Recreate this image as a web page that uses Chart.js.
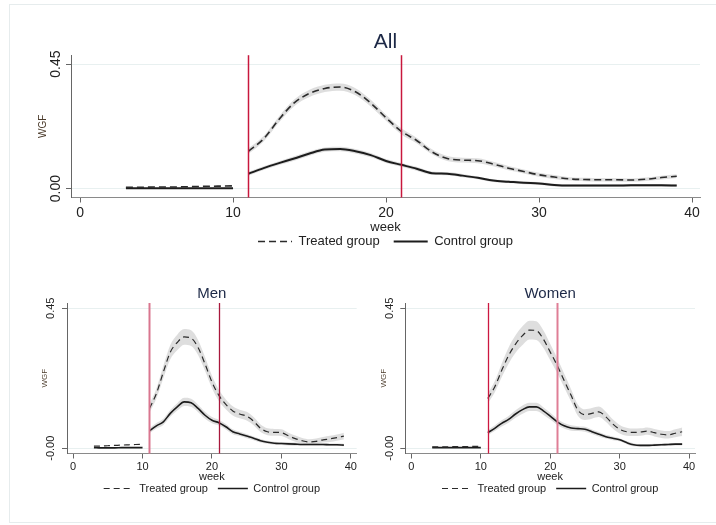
<!DOCTYPE html>
<html>
<head>
<meta charset="utf-8">
<title>WGF by week</title>
<script src="https://cdn.jsdelivr.net/npm/chart.js@4.4.1/dist/chart.umd.min.js"></script>
<style>
  html, body { margin: 0; padding: 0; background: #fff; overflow: hidden; }
  #frame { position: absolute; left: 9px; top: 4px; width: 760px; height: 517px; border: 1px solid #e6eced; }
  .box { position: absolute; }
</style>
</head>
<body>
<div id="frame"></div>
<div class="box" style="left:0;top:19px;width:716px;height:239px;"><canvas id="allChart"></canvas></div>
<div class="box" style="left:0;top:277px;width:360px;height:227px;"><canvas id="menChart"></canvas></div>
<div class="box" style="left:360px;top:277px;width:356px;height:227px;"><canvas id="womenChart"></canvas></div>
<script>
// weeks before / after the start of the programme
const weeksPre = [3, 4, 5, 6, 7, 8, 9, 10];
const weeksPost = [11, 12, 13, 14, 15, 16, 17, 18, 19, 20, 21, 22, 23, 24, 25, 26, 27, 28, 29, 30, 31, 32, 33, 34, 35, 36, 37, 38, 39];
const xTicks = [0, 10, 20, 30, 40];
const yTicks = [0, 0.45];
const yLabelsAll = ['0.00', '0.45'];
const yLabelsSub = ['-0.00', '0.45'];
const policyWeeks = [11, 21];

// All
const allTreatedPre = [0.005, 0.005, 0.006, 0.006, 0.007, 0.008, 0.009, 0.010];
const allControlPre = [0.001, 0.001, 0.001, 0.001, 0.001, 0.001, 0.001, 0.001];
const allTreatedPost = [0.135, 0.18, 0.25, 0.31, 0.344, 0.362, 0.367, 0.35, 0.309, 0.256, 0.207, 0.174, 0.133, 0.109, 0.103, 0.101, 0.089, 0.074, 0.062, 0.05, 0.042, 0.035, 0.033, 0.032, 0.032, 0.031, 0.034, 0.04, 0.045];
const allControlPost = [0.054, 0.074, 0.092, 0.109, 0.127, 0.141, 0.143, 0.135, 0.121, 0.10, 0.086, 0.072, 0.056, 0.054, 0.047, 0.039, 0.029, 0.025, 0.021, 0.019, 0.013, 0.011, 0.011, 0.011, 0.011, 0.012, 0.012, 0.012, 0.011];
const allTreatedCi = [0.01, 0.01, 0.011, 0.012, 0.013, 0.013, 0.013, 0.013, 0.012, 0.011, 0.011, 0.01, 0.009, 0.009, 0.009, 0.009, 0.008, 0.008, 0.007, 0.007, 0.007, 0.006, 0.006, 0.006, 0.006, 0.006, 0.006, 0.007, 0.007];
const allControlCi = [0.007, 0.007, 0.007, 0.008, 0.008, 0.008, 0.008, 0.008, 0.008, 0.007, 0.007, 0.007, 0.006, 0.006, 0.006, 0.005, 0.005, 0.005, 0.005, 0.005, 0.005, 0.005, 0.005, 0.005, 0.005, 0.005, 0.005, 0.005, 0.005];

// Men
const menTreatedPre = [0.007, 0.007, 0.008, 0.009, 0.010, 0.011, 0.012, 0.013];
const menControlPre = [0.002, 0.001, 0.001, 0.001, 0.002, 0.002, 0.002, 0.002];
const menTreatedPost = [0.128, 0.176, 0.245, 0.309, 0.34, 0.358, 0.354, 0.324, 0.271, 0.213, 0.17, 0.141, 0.12, 0.11, 0.103, 0.087, 0.064, 0.053, 0.051, 0.05, 0.04, 0.031, 0.024, 0.02, 0.022, 0.027, 0.03, 0.034, 0.039];
const menControlPost = [0.056, 0.072, 0.085, 0.112, 0.133, 0.149, 0.146, 0.128, 0.106, 0.09, 0.082, 0.069, 0.053, 0.046, 0.039, 0.032, 0.024, 0.019, 0.016, 0.015, 0.014, 0.013, 0.012, 0.012, 0.012, 0.012, 0.011, 0.011, 0.01];
const menTreatedCi = [0.014, 0.016, 0.02, 0.023, 0.025, 0.025, 0.025, 0.024, 0.022, 0.02, 0.018, 0.016, 0.015, 0.014, 0.014, 0.013, 0.012, 0.011, 0.011, 0.011, 0.01, 0.01, 0.009, 0.009, 0.009, 0.009, 0.01, 0.01, 0.011];
const menControlCi = [0.008, 0.009, 0.01, 0.011, 0.012, 0.013, 0.013, 0.012, 0.011, 0.01, 0.009, 0.009, 0.008, 0.007, 0.007, 0.006, 0.006, 0.005, 0.005, 0.005, 0.005, 0.005, 0.004, 0.004, 0.004, 0.004, 0.004, 0.004, 0.004];

// Women
const womenTreatedPre = [0.004, 0.004, 0.004, 0.005, 0.005, 0.005, 0.006, 0.006];
const womenControlPre = [0.002, 0.002, 0.002, 0.002, 0.002, 0.002, 0.002, 0.002];
const womenTreatedPost = [0.16, 0.197, 0.25, 0.298, 0.335, 0.362, 0.38, 0.378, 0.351, 0.309, 0.266, 0.218, 0.17, 0.122, 0.108, 0.112, 0.117, 0.101, 0.078, 0.061, 0.053, 0.051, 0.052, 0.055, 0.05, 0.045, 0.043, 0.048, 0.053];
const womenControlPost = [0.05, 0.064, 0.08, 0.093, 0.11, 0.124, 0.133, 0.133, 0.12, 0.103, 0.085, 0.072, 0.065, 0.063, 0.061, 0.053, 0.045, 0.037, 0.032, 0.027, 0.018, 0.011, 0.009, 0.009, 0.01, 0.011, 0.012, 0.013, 0.013];
const womenTreatedCi = [0.016, 0.018, 0.022, 0.026, 0.028, 0.03, 0.03, 0.03, 0.028, 0.026, 0.024, 0.022, 0.02, 0.018, 0.017, 0.017, 0.017, 0.016, 0.015, 0.014, 0.013, 0.012, 0.012, 0.012, 0.012, 0.012, 0.012, 0.013, 0.014];
const womenControlCi = [0.008, 0.009, 0.01, 0.011, 0.012, 0.013, 0.013, 0.013, 0.012, 0.011, 0.01, 0.009, 0.009, 0.008, 0.008, 0.007, 0.007, 0.006, 0.006, 0.005, 0.005, 0.005, 0.004, 0.004, 0.004, 0.004, 0.004, 0.004, 0.004];

const fontFamily = "'Liberation Sans', Arial, sans-serif";
const bandColor = 'rgba(195, 195, 195, 0.55)';

function toPoints(weeks, vals, ci, sign) {
    return weeks.map((w, i) => ({ x: w, y: ci ? vals[i] + sign * ci[i] : vals[i] }));
}

function buildDatasets(tPre, cPre, tPost, cPost, tCi, cCi, s) {
    const treated = { borderColor: '#2b2b2b', borderWidth: s.lw, borderDash: s.dash, order: 0 };
    const control = { borderColor: '#1c1c1c', borderWidth: s.lw + 0.4, order: 0 };
    const band = { borderWidth: 0, backgroundColor: bandColor, order: 2 };
    return [
        Object.assign({ label: 'Treated group', data: toPoints(weeksPost, tPost) }, treated),
        Object.assign({ label: 'Control group', data: toPoints(weeksPost, cPost) }, control),
        Object.assign({ label: '', data: toPoints(weeksPre, tPre) }, treated),
        Object.assign({ label: '', data: toPoints(weeksPre, cPre) }, control),
        Object.assign({ label: '', data: toPoints(weeksPost, tPost, tCi, 1), fill: '+1' }, band),
        Object.assign({ label: '', data: toPoints(weeksPost, tPost, tCi, -1), fill: false }, band),
        Object.assign({ label: '', data: toPoints(weeksPost, cPost, cCi, 1), fill: '+1' }, band),
        Object.assign({ label: '', data: toPoints(weeksPost, cPost, cCi, -1), fill: false }, band)
    ];
}

// legend samples take dash and width from the line datasets
function legendLabels(chart) {
    const items = Chart.defaults.plugins.legend.labels.generateLabels(chart);
    items.forEach(it => {
        const ds = chart.data.datasets[it.datasetIndex];
        it.lineDash = ds.borderDash || [];
        it.lineWidth = ds.borderWidth;
        it.strokeStyle = ds.borderColor;
    });
    return items;
}

// vertical red lines at the policy weeks
const policyLines = {
    id: 'policyLines',
    afterDatasetsDraw(chart, args, opts) {
        const { ctx, chartArea, scales } = chart;
        ctx.save();
        policyWeeks.forEach((w, i) => {
            const px = Math.round(scales.x.getPixelForValue(w)) + 0.5;
            ctx.strokeStyle = opts.colors[i];
            ctx.lineWidth = opts.widths[i];
            ctx.beginPath();
            ctx.moveTo(px, chartArea.top);
            ctx.lineTo(px, chartArea.bottom);
            ctx.stroke();
        });
        ctx.restore();
    }
};

function makeChart(id, title, datasets, yLabels, s) {
    return new Chart(document.getElementById(id), {
        type: 'line',
        data: { datasets: datasets },
        options: {
            responsive: true,
            maintainAspectRatio: false,
            animation: false,
            layout: { padding: { left: 0, right: s.padRight, top: 0, bottom: 0 } },
            elements: { point: { radius: 0 }, line: { cubicInterpolationMode: 'monotone' } },
            plugins: {
                title: {
                    display: true, text: title, fullSize: false, color: '#1c2846',
                    font: { family: fontFamily, size: s.titleSize, weight: 'normal' },
                    padding: { top: s.titlePad, bottom: 0 }
                },
                legend: {
                    position: 'bottom', fullSize: false,
                    labels: {
                        filter: item => item.text !== '',
                        generateLabels: legendLabels,
                        usePointStyle: true, pointStyle: 'line', pointStyleWidth: s.legendBox,
                        padding: s.legendPad, color: '#222',
                        font: { family: fontFamily, size: s.legendSize }
                    }
                },
                tooltip: { enabled: false },
                policyLines: { colors: s.redColors, widths: s.redWidths }
            },
            scales: {
                x: {
                    type: 'linear', min: s.xMin, max: s.xMax,
                    afterBuildTicks: sc => { sc.ticks = xTicks.map(v => ({ value: v })); },
                    afterFit: sc => { sc.height = s.xHeight; },
                    ticks: { color: '#222', padding: 2, maxRotation: 0, autoSkip: false, font: { family: fontFamily, size: s.tickSize } },
                    grid: { drawOnChartArea: false, tickLength: 5, tickColor: '#666' },
                    border: { color: '#8a8a8a' },
                    title: { display: true, text: 'week', color: '#222', font: { family: fontFamily, size: s.weekSize }, padding: { top: 0, bottom: s.weekPad } }
                },
                y: {
                    min: s.yMin, max: s.yMax,
                    afterBuildTicks: sc => { sc.ticks = yTicks.map(v => ({ value: v })); },
                    afterFit: sc => { sc.width = s.yWidth; },
                    ticks: {
                        callback: (v, i) => yLabels[i],
                        minRotation: 90, maxRotation: 90, crossAlign: 'center', padding: s.yTickPad,
                        color: '#222', font: { family: fontFamily, size: s.tickSize }
                    },
                    grid: { color: '#e8f0f0', tickLength: 5, tickColor: '#666' },
                    border: { color: '#666' },
                    title: { display: true, text: 'WGF', color: '#4a3a2a', font: { family: fontFamily, size: s.wgfSize }, padding: { top: s.wgfPad, bottom: 0 } }
                }
            }
        },
        plugins: [policyLines]
    });
}

const topStyle = {
    lw: 1.6, dash: [7, 4], padRight: 16, titleSize: 21, titlePad: 11, legendBox: 34, legendPad: 14, legendSize: 13,
    xMin: -0.59, xMax: 40.52, yMin: -0.032, yMax: 0.482, xHeight: 23.5, yWidth: 71, tickSize: 14, weekSize: 13, weekPad: -14,
    yTickPad: -3.5, wgfSize: 10, wgfPad: 37, redColors: ['#c8173c', '#c8173c'], redWidths: [1.5, 1.5]
};
const subStyle = {
    lw: 1.2, dash: [6, 4], titleSize: 15, titlePad: 8, legendBox: 30, legendPad: 10, legendSize: 11,
    xMin: -0.88, xMax: 40.85, yMin: -0.017, yMax: 0.467, xHeight: 19.5, tickSize: 11, weekSize: 11, weekPad: -11,
    yTickPad: -2, wgfSize: 8
};

makeChart('allChart', 'All',
    buildDatasets(allTreatedPre, allControlPre, allTreatedPost, allControlPost, allTreatedCi, allControlCi, topStyle),
    yLabelsAll, topStyle);

const menStyle = Object.assign({}, subStyle, { padRight: 3.3, yWidth: 67, wgfPad: 40, redColors: ['#d9768f', '#a8183c'], redWidths: [2, 1.3] });
makeChart('menChart', 'Men',
    buildDatasets(menTreatedPre, menControlPre, menTreatedPost, menControlPost, menTreatedCi, menControlCi, menStyle),
    yLabelsSub, menStyle);

const womenStyle = Object.assign({}, subStyle, { padRight: 21, yWidth: 45.3, wgfPad: 18.5, redColors: ['#cc1840', '#df7e96'], redWidths: [1.3, 2] });
makeChart('womenChart', 'Women',
    buildDatasets(womenTreatedPre, womenControlPre, womenTreatedPost, womenControlPost, womenTreatedCi, womenControlCi, womenStyle),
    yLabelsSub, womenStyle);
</script>
</body>
</html>
